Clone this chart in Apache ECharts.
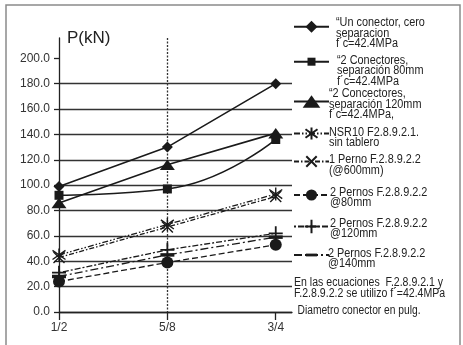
<!DOCTYPE html>
<html>
<head>
<meta charset="utf-8">
<script src="https://cdn.jsdelivr.net/npm/echarts@6/dist/echarts.min.js"></script>
<style>html,body{margin:0;padding:0;background:#fff}#c{width:463px;height:345px}</style>
</head>
<body>
<div id="c"></div>
<script>
// ---- data ----
const categories = ['1/2', '5/8', '3/4'];
const yTickValues = [0, 20, 40, 60, 80, 100, 120, 140, 160, 180, 200];

const names = [
  '“Un conector, cero\nseparacion\nf´c=42.4MPa',
  '“2 Conectores,\nseparación 80mm\nf´c=42.4MPa',
  '“2 Concectores,\nseparación 120mm\nf´c=42.4MPa,',
  'NSR10 F2.8.9.2.1.\nsin tablero',
  '1 Perno F.2.8.9.2.2\n(@600mm)',
  '2 Pernos F.2.8.9.2.2\n@80mm',
  '2 Pernos F.2.8.9.2.2\n@120mm',
  '2 Pernos F.2.8.9.2.2\n@140mm'
];
const unConector = [99, 130, 180];
const dosConect80 = [92, 97, 136];
const dosConect120 = [86, 116, 141];
const nsr10 = [45, 69, 93];
const unPerno600 = [43, 67, 91];
const dosPernos80 = [24, 39, 53];
const dosPernos120 = [31, 49, 62];
const dosPernos140 = [28, 45, 59];

const noteLines = ['En las ecuaciones  F.2.8.9.2.1 y', 'F.2.8.9.2.2 se utilizo f´=42.4MPa'];
const xAxisName = 'Diametro conector en pulg.';
const yAxisName = 'P(kN)';

// ---- helpers ----
const pts = arr => arr.map((v, i) => [i, v]);
const FONT = 'Liberation Sans, Arial, sans-serif';
const INK = '#1a1a1a';

const SYM_AST = 'path://M5,0 L5,10 M1.5,1.5 L8.5,8.5 M1.5,8.5 L8.5,1.5';
const SYM_X = 'path://M1,1 L9,9 M1,9 L9,1';
const SYM_PLUS = 'path://M5,0 L5,10 M0,5 L10,5';
const SYM_DASH = 'path://M0,0 M12,12 M0,4.5 L12,4.5 L12,7.5 L0,7.5 Z';
const SYM_TRI = 'path://M0,0 M20,20 M0,17 L10,3 L20,17 Z';

const strokeSym = {color: 'rgba(0,0,0,0)', borderColor: INK, borderWidth: 1.4};

const seriesDefs = [
  {data: unConector, symbol: 'diamond', symbolSize: 11, line: {type: 'solid', width: 1.6}, item: {color: INK}},
  {data: dosConect80, symbol: 'rect', symbolSize: 9, line: {type: 'solid', width: 1.6}, item: {color: INK}, smooth: 0.5},
  {data: dosConect120, symbol: SYM_TRI, symbolSize: 15, line: {type: 'solid', width: 1.6}, item: {color: INK}},
  {data: nsr10, symbol: SYM_AST, symbolSize: 13, line: {type: [6, 2, 1.5, 2, 1.5, 2], width: 1.3}, item: strokeSym},
  {data: unPerno600, symbol: SYM_X, symbolSize: 11, line: {type: [5, 2, 1.5, 2], width: 1.3}, item: strokeSym},
  {data: dosPernos80, symbol: 'circle', symbolSize: 12, line: {type: [6, 3], width: 1.3}, item: {color: INK}},
  {data: dosPernos120, symbol: SYM_PLUS, symbolSize: 14, line: {type: [2, 2, 6, 2], width: 1.3}, item: {color: 'rgba(0,0,0,0)', borderColor: INK, borderWidth: 1.8}},
  {data: dosPernos140, symbol: SYM_DASH, symbolSize: 14, line: {type: [8, 3, 2, 3], width: 1.3}, item: {color: INK}}
];

const series = seriesDefs.map((d, i) => ({
  type: 'line',
  name: names[i],
  data: pts(d.data),
  symbol: d.symbol,
  symbolSize: d.symbolSize,
  smooth: d.smooth || false,
  lineStyle: Object.assign({color: INK}, d.line),
  itemStyle: d.item,
  emphasis: {disabled: true},
  z: 3 + (8 - i)
}));

// legend icon layout: [iconCenterY, itemHeight]
const iconLayout = [[26.7, 15], [61.7, 10], [101.5, 22], [133.5, 15], [161.5, 13], [195, 14], [226.5, 17], [255, 14]];
// legend text layout: [x, firstLineY, lineStep]
const textLayout = [[336, 23, 10.2], [337, 60.5, 10.3], [329, 94, 10.5], [329, 132.5, 10], [329, 160, 10.5], [330, 192.5, 10.5], [330, 224, 10], [328, 253.3, 10.5]];

const legends = names.map((n, i) => {
  const [cy, ih] = iconLayout[i];
  return {
    data: [n],
    left: 293,
    top: cy - ih / 2,
    orient: 'vertical',
    padding: 0,
    itemWidth: 35,
    itemHeight: ih,
    selectedMode: false,
    formatter: () => '',
    textStyle: {fontSize: 1}
  };
});

const textEl = (str, x, y, sx) => ({
  type: 'text', x: x, y: y, scaleX: sx, silent: true,
  style: {text: str, fontFamily: FONT, fontSize: 12.5, fill: '#222', verticalAlign: 'middle', align: 'left'}
});

const graphics = [
  {type: 'rect', shape: {x: 6, y: 5, width: 454, height: 350}, style: {fill: 'none', stroke: '#8a8a8a', lineWidth: 1.5}, silent: true}
];
names.forEach((n, i) => {
  const [x, y0, step] = textLayout[i];
  n.split('\n').forEach((ln, j) => graphics.push(textEl(ln, x, y0 + j * step, 0.87)));
});
noteLines.forEach((ln, j) => graphics.push(textEl(ln, 294, 282.7 + j * 10.7, 0.845)));
graphics.push(textEl(xAxisName, 297.5, 311, 0.82));

const chart = echarts.init(document.getElementById('c'), null, {renderer: 'canvas'});
chart.setOption({
  animation: false,
  backgroundColor: '#fff',
  grid: {left: 59, right: 171, top: 38, bottom: 33, containLabel: false},
  legend: legends,
  xAxis: {
    type: 'value', min: 0, max: 2.15, interval: 1,
    axisLine: {show: true, lineStyle: {color: '#222', width: 1.3}},
    axisTick: {show: true, length: 8, customValues: [0, 1, 2], lineStyle: {color: '#222', width: 1.3}},
    axisLabel: {customValues: [0, 1, 2], formatter: v => categories[Math.round(v)] || '', fontFamily: FONT, fontSize: 12, color: '#333', margin: 10},
    splitLine: {show: true, showMinLine: false, showMaxLine: false, lineStyle: {color: '#333', type: [2, 1.5], width: 1.3}}
  },
  yAxis: {
    type: 'value', min: 0, max: 216, interval: 20,
    axisLine: {show: true, lineStyle: {color: '#222', width: 1.3}},
    axisTick: {show: true, length: 5, customValues: yTickValues, lineStyle: {color: '#222', width: 1.3}},
    axisLabel: {customValues: yTickValues, formatter: v => v.toFixed(1), fontFamily: FONT, fontSize: 12, color: '#333', margin: 9},
    splitLine: {show: true, showMaxLine: false, lineStyle: {color: '#333', width: 1.3}}
  },
  title: {text: yAxisName, left: 67, top: 30, padding: 0, textStyle: {fontFamily: FONT, fontSize: 17, fontWeight: 'normal', color: '#222'}},
  graphic: graphics,
  series: series
});
</script>
</body>
</html>
